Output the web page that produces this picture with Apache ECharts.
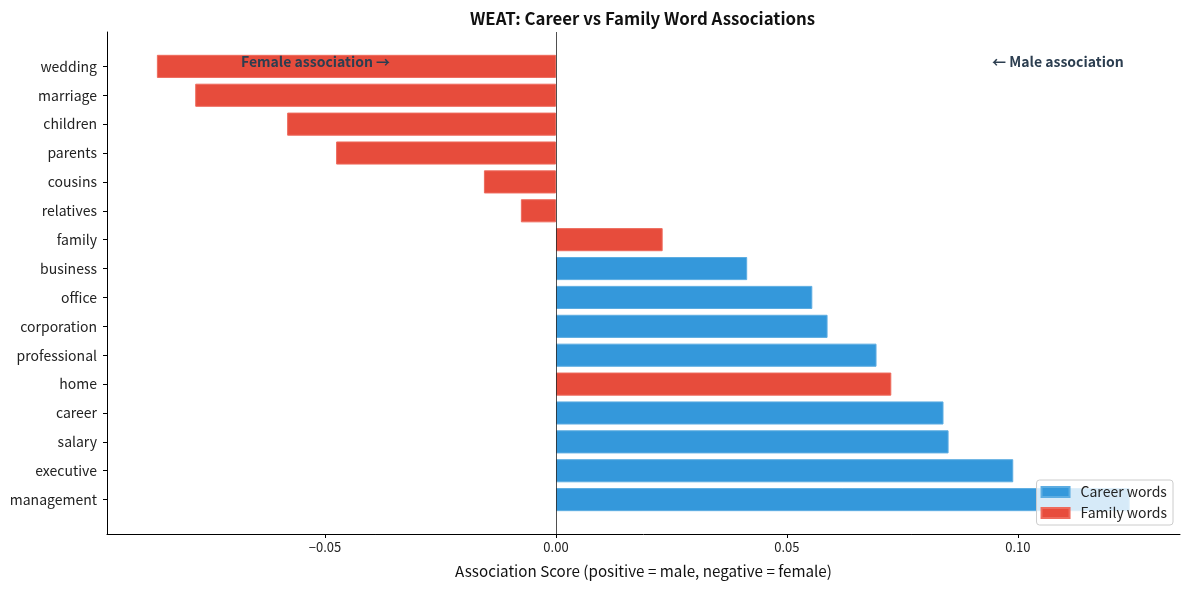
<!DOCTYPE html>
<html>
<head>
<meta charset="utf-8">
<script src="https://cdn.jsdelivr.net/npm/echarts@6/dist/echarts.min.js"></script>
<style>html,body{margin:0;padding:0;background:#fff}#c{width:1189px;height:590px}</style>
</head>
<body>
<div id="c"></div>
<script>
const categories = ['wedding','marriage','children','parents','cousins','relatives','family','business','office','corporation','professional','home','career','salary','executive','management'];
const scores = [-0.0864,-0.0781,-0.0582,-0.0476,-0.0156,-0.0076,0.0231,0.0414,0.0555,0.0588,0.0694,0.0726,0.0839,0.0850,0.0990,0.1242];
const groups = ['family','family','family','family','family','family','family','career','career','career','career','family','career','career','career','career'];
const xTicks = [-0.05, 0, 0.05, 0.10];
const xMin = -0.0972, xMax = 0.1351;
const annotations = [
  {text:'Female association \u2192', x:-0.0682, y:15.17, align:'left'},
  {text:'\u2190 Male association', x:0.1229, y:15.17, align:'right'}
];

const FONT = '"Noto Sans CJK JP", "Noto Sans", sans-serif';
const BLUE = '#3498db', RED = '#e74c3c';
const careerData = scores.map((v,i)=> groups[i]==='career' ? v : '-');
const familyData = scores.map((v,i)=> groups[i]==='family' ? v : '-');
const fmt = v => (v<0?'\u2212':'') + Math.abs(v).toFixed(2);
const n = categories.length;
const yLo = -0.4 - 0.05*(n-0.2), yHi = (n-1)+0.4 + 0.05*(n-0.2);

const chart = echarts.init(document.getElementById('c'), null, {renderer:'canvas'});
const gridTop = 32, gridBottom = 56;
const plotH = 590 - gridTop - gridBottom;
const unit = plotH / (yHi - yLo);
const innerTop = gridTop + (yHi - (n-1) - 0.5) * unit;
const innerBottom = gridBottom + (-0.5 - yLo) * unit;

chart.setOption({
  animation:false,
  textStyle:{fontFamily:FONT},
  title:{text:'WEAT: Career vs Family Word Associations', left:465, top:5,
    textStyle:{fontFamily:FONT, fontSize:16.8, fontWeight:'bold', color:'#111'}},
  legend:{
    data:['Career words','Family words'], orient:'vertical', right:16, bottom:65,
    icon:'rect', itemWidth:28, itemHeight:10, itemGap:7,
    backgroundColor:'rgba(255,255,255,0.8)', borderColor:'#ccc', borderWidth:1, borderRadius:3,
    padding:[5,6,5,4],
    textStyle:{fontFamily:FONT, fontSize:14, color:'#222', padding:[0,0,0,6]}
  },
  grid:[
    {left:107, right:9, top:gridTop, bottom:gridBottom},
    {left:107, right:9, top:innerTop, bottom:innerBottom}
  ],
  xAxis:[
    {type:'value', gridIndex:0, min:xMin, max:xMax,
     name:'Association Score (positive = male, negative = female)', nameLocation:'middle', nameGap:30,
     nameTextStyle:{fontFamily:FONT, fontSize:15.2, color:'#111'},
     axisLine:{show:true, onZero:false, lineStyle:{color:'#000', width:1}},
     axisTick:{show:true, length:4, customValues:xTicks, lineStyle:{color:'#000'}},
     axisLabel:{customValues:xTicks, formatter:fmt, fontFamily:FONT, fontSize:13, color:'#222', margin:7},
     splitLine:{show:false}},
    {type:'value', gridIndex:1, min:xMin, max:xMax, show:false, splitLine:{show:false}}
  ],
  yAxis:[
    {type:'value', gridIndex:0, min:yLo, max:yHi,
     axisLine:{show:true, onZero:false, lineStyle:{color:'#000', width:1}},
     axisTick:{show:false}, axisLabel:{show:false}, splitLine:{show:false}},
    {type:'category', gridIndex:1, data:categories, inverse:true,
     axisLine:{show:true, onZero:false, lineStyle:{color:'#000', width:1}},
     axisTick:{show:true, alignWithLabel:true, length:4, lineStyle:{color:'#000', width:1}},
     axisLabel:{fontFamily:FONT, fontSize:14, color:'#222', margin:10}}
  ],
  series:[
    {name:'Career words', type:'bar', xAxisIndex:1, yAxisIndex:1, stack:'s', data:careerData,
     barCategoryGap:'20%', itemStyle:{color:BLUE, borderColor:'#5dade2', borderWidth:1}},
    {name:'Family words', type:'bar', xAxisIndex:1, yAxisIndex:1, stack:'s', data:familyData,
     barCategoryGap:'20%', itemStyle:{color:RED, borderColor:'#ee6b5d', borderWidth:1}},
    {name:'zero', type:'line', xAxisIndex:0, yAxisIndex:0, data:[], silent:true,
     markLine:{silent:true, symbol:['none','none'], label:{show:false},
       lineStyle:{color:'#222', width:0.8, type:'solid'}, data:[{xAxis:0}]}},
    {name:'notes', type:'scatter', xAxisIndex:0, yAxisIndex:0, symbolSize:0, silent:true,
     itemStyle:{opacity:1},
     data:annotations.map(a=>({value:[a.x,a.y], label:{show:true, position:'inside', formatter:a.text,
       align:a.align, verticalAlign:'middle', fontFamily:FONT, fontSize:14, fontWeight:'bold', color:'#2c3e50', opacity:1}}))}
  ]
});
</script>
</body>
</html>
